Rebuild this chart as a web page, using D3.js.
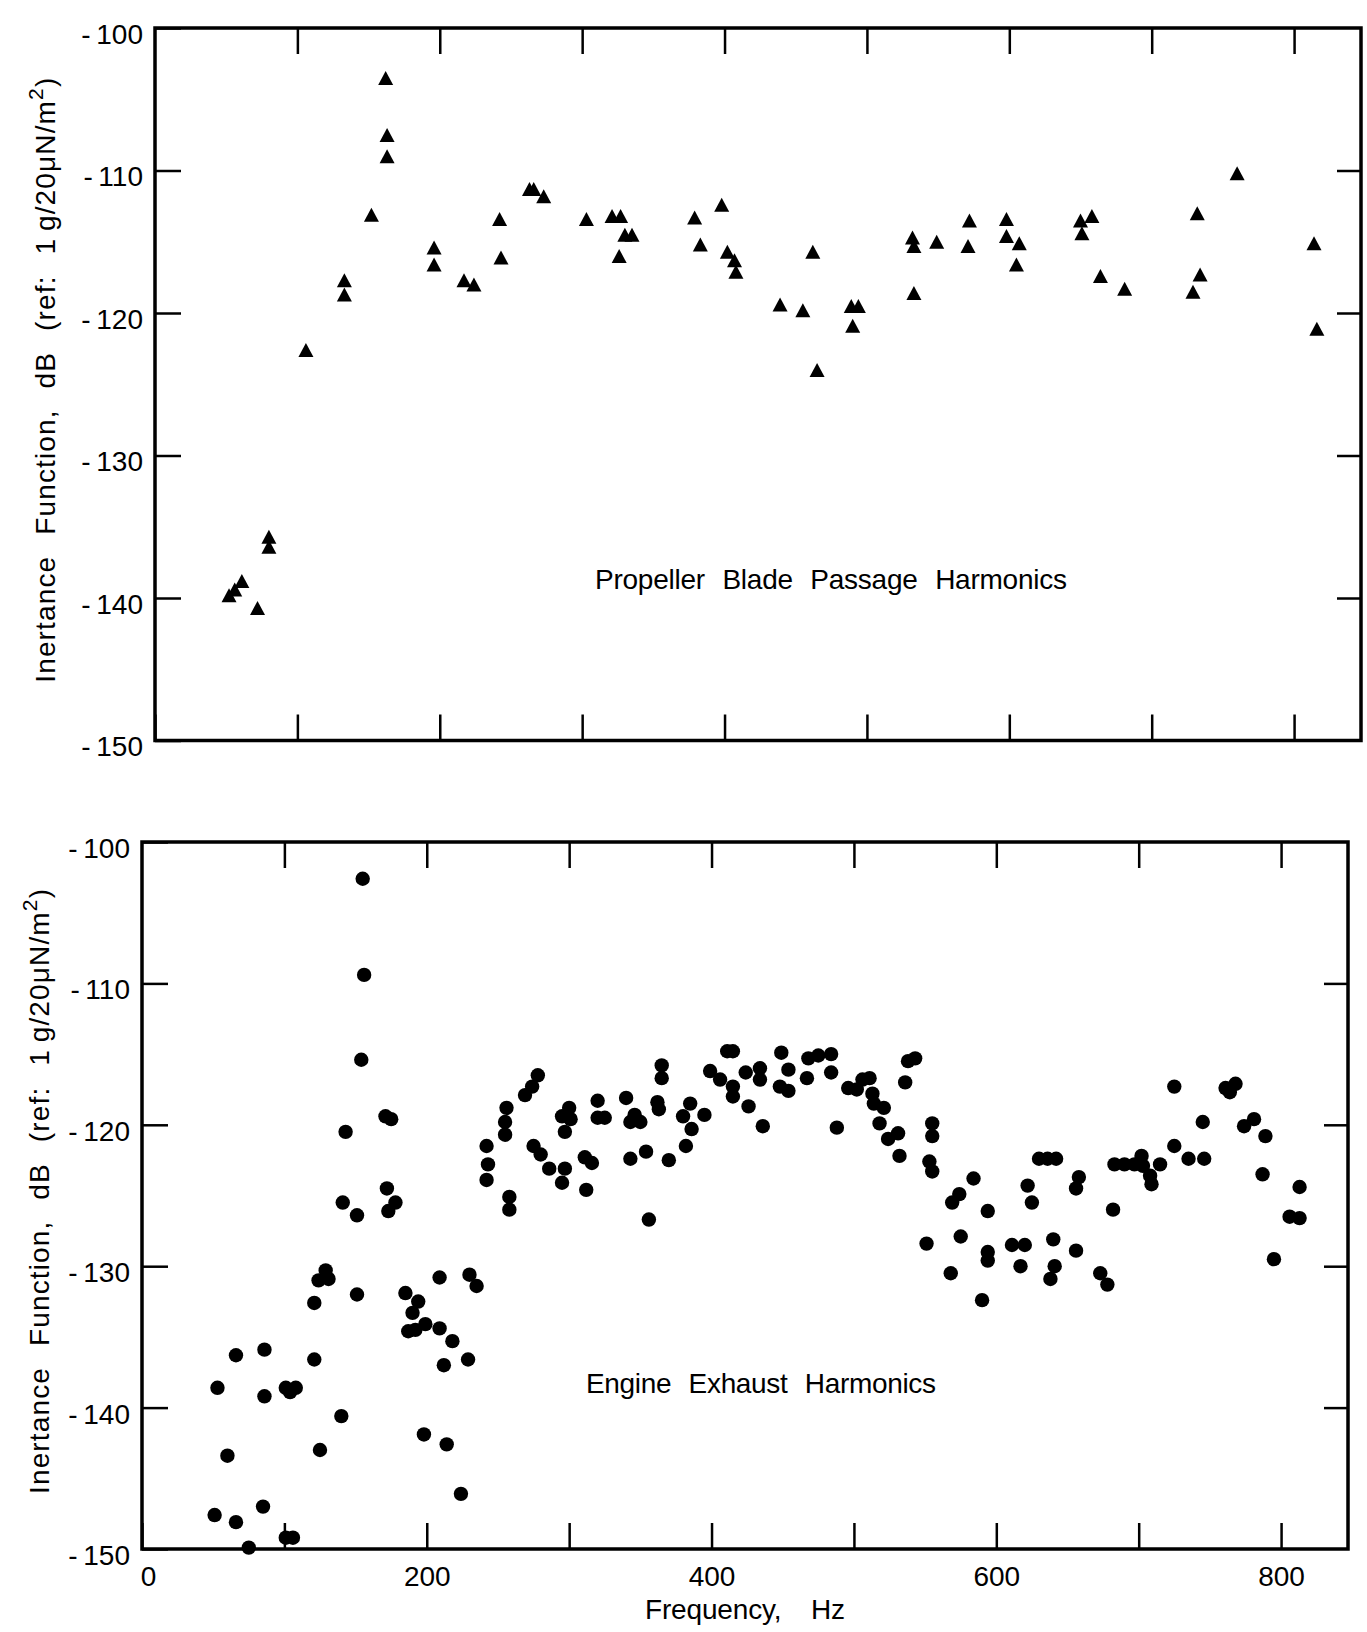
<!DOCTYPE html>
<html>
<head>
<meta charset="utf-8">
<script src="https://d3js.org/d3.v7.min.js"></script>
<style>
  body { margin: 0; background: #fff; }
  text { font-family: "Liberation Sans", Arial, sans-serif; fill: #000; }
</style>
</head>
<body>
<div id="chart"></div>
<script>
// propeller blade passage harmonics: [frequency Hz, inertance dB]
const propeller = [
  [162,-103.5],[163,-107.5],[163,-109.0],[152,-113.1],[133,-117.7],[133,-118.7],
  [106,-122.6],[80,-135.7],[80,-136.4],[61,-138.8],[56,-139.4],[52,-139.8],[72,-140.7],
  [196,-115.4],[196,-116.6],[217,-117.7],[224,-118.0],[242,-113.4],[243,-116.1],
  [263,-111.3],[266,-111.3],[273,-111.8],[303,-113.4],[321,-113.2],[327,-113.2],
  [330,-114.5],[335,-114.5],[326,-116.0],[379,-113.3],[383,-115.2],[398,-112.4],
  [402,-115.7],[407,-116.3],[408,-117.1],[439,-119.4],[455,-119.8],[462,-115.7],
  [465,-124.0],[489,-119.5],[494,-119.5],[490,-120.9],[532,-114.7],[533,-115.3],
  [533,-118.6],[549,-115.0],[572,-113.5],[571,-115.3],[598,-113.4],[598,-114.6],
  [607,-115.1],[605,-116.6],[650,-113.5],[658,-113.2],[651,-114.4],[664,-117.4],
  [681,-118.3],[732,-113.0],[734,-117.3],[729,-118.5],[760,-110.2],[814,-115.1],
  [816,-121.1]
];

// engine exhaust harmonics: [frequency Hz, inertance dB]
const exhaust = [
  [155,-102.6],[156,-109.4],[154,-115.4],[171,-119.4],[175,-119.6],[143,-120.5],
  [172,-124.5],[178,-125.5],[173,-126.1],[141,-125.5],[151,-126.4],[129,-130.3],
  [124,-131.0],[131,-130.9],[121,-132.6],[151,-132.0],[121,-136.6],[66,-136.3],
  [86,-135.9],[53,-138.6],[86,-139.2],[101,-138.6],[104,-138.9],[108,-138.6],
  [140,-140.6],[198,-141.9],[214,-142.6],[125,-143.0],[185,-131.9],[194,-132.5],
  [190,-133.3],[187,-134.6],[192,-134.5],[199,-134.1],[209,-130.8],[209,-134.4],
  [218,-135.3],[212,-137.0],[229,-136.6],[230,-130.6],[235,-131.4],
  [60,-143.4],[224,-146.1],[51,-147.6],[66,-148.1],[85,-147.0],[75,-149.9],
  [101,-149.2],[106,-149.2],
  [242,-121.5],[243,-122.8],[242,-123.9],[256,-118.8],[255,-119.8],[255,-120.7],
  [258,-125.1],[258,-126.0],[269,-117.9],[274,-117.3],[278,-116.5],[275,-121.5],
  [280,-122.1],[286,-123.1],[297,-123.1],[295,-124.1],[300,-118.8],[295,-119.4],
  [301,-119.6],[297,-120.5],[320,-118.3],[320,-119.5],[325,-119.5],[311,-122.3],
  [316,-122.7],[312,-124.6],[340,-118.1],[343,-119.8],[346,-119.3],[350,-119.8],
  [343,-122.4],[354,-121.9],[356,-126.7],[365,-115.8],[365,-116.7],[362,-118.4],
  [363,-118.9],[370,-122.5],[380,-119.4],[385,-118.5],[386,-120.3],[382,-121.5],
  [395,-119.3],[399,-116.2],[406,-116.8],[411,-114.8],[415,-114.8],[415,-117.3],
  [415,-118.0],
  [424,-116.3],[434,-116.0],[434,-116.8],[426,-118.7],[436,-120.1],[449,-114.9],
  [454,-116.1],[448,-117.3],[454,-117.6],[468,-115.3],[467,-116.7],[475,-115.1],
  [484,-115.0],[484,-116.3],[488,-120.2],[496,-117.4],[502,-117.5],[506,-116.8],
  [511,-116.7],[513,-117.8],[514,-118.5],[521,-118.8],[518,-119.9],[524,-121.0],
  [531,-120.6],[532,-122.2],[538,-115.5],[543,-115.3],[536,-117.0],[555,-119.9],
  [555,-120.8],[553,-122.6],[555,-123.3],[551,-128.4],[569,-125.5],[574,-124.9],
  [584,-123.8],[575,-127.9],[568,-130.5],[594,-126.1],[594,-129.0],[594,-129.6],
  [590,-132.4],[622,-124.3],[625,-125.5],[611,-128.5],[620,-128.5],[617,-130.0],
  [630,-122.4],[636,-122.4],[642,-122.4],[640,-128.1],[641,-130.0],[638,-130.9],
  [656,-128.9],[658,-123.7],[656,-124.5],[673,-130.5],[678,-131.3],[682,-126.0],
  [683,-122.8],[690,-122.8],[697,-122.8],[702,-122.2],[703,-122.9],[708,-123.6],
  [709,-124.2],[715,-122.8],[725,-117.3],[725,-121.5],[735,-122.4],[746,-122.4],
  [745,-119.8],[761,-117.4],[764,-117.7],[768,-117.1],[774,-120.1],[781,-119.6],
  [789,-120.8],[787,-123.5],[795,-129.5],[813,-124.4],[806,-126.5],[813,-126.6]
];

const yTicks = [-100, -110, -120, -130, -140, -150];
const yInnerTicks = [-110, -120, -130, -140];
const xTicks = [0, 100, 200, 300, 400, 500, 600, 700, 800];
const xLabelled = [0, 200, 400, 600, 800];
const xDomain = [0, 847];
const yDomain = [-150, -100];

const width = 1367, height = 1632;
const svg = d3.select("#chart").append("svg")
    .attr("width", width)
    .attr("height", height);

const panels = [
  { data: propeller, marker: "triangle", left: 155, right: 1361, top: 28, bottom: 740.5,
    note: "Propeller Blade Passage Harmonics", noteX: 595, noteY: 589, noteLen: 472,
    titleX: 55, showX: false },
  { data: exhaust, marker: "circle", left: 142, right: 1348, top: 842, bottom: 1549,
    note: "Engine Exhaust Harmonics", noteX: 586, noteY: 1393, noteLen: 350,
    titleX: 49, showX: true }
];

const tri = (w, h) => `M0,${-h/2}L${w/2},${h/2}L${-w/2},${h/2}Z`;

panels.forEach(p => {
  const x = d3.scaleLinear().domain(xDomain).range([p.left, p.right]);
  const y = d3.scaleLinear().domain(yDomain).range([p.bottom, p.top]);
  const g = svg.append("g");

  // left axis with labels, ticks pointing inward
  const left = g.append("g")
      .attr("transform", `translate(${p.left},0)`)
      .call(d3.axisLeft(y).tickValues(yTicks).tickSize(-26).tickPadding(12)
        .tickFormat(d => "-\u2009" + Math.abs(d)));
  left.selectAll("text").attr("dy", "0.55em").style("font-size", "28px").style("font-family", "Liberation Sans, Arial, sans-serif");

  g.append("g")
      .attr("transform", `translate(${p.right},0)`)
      .call(d3.axisRight(y).tickValues(yInnerTicks).tickSize(-24).tickFormat(""));

  g.append("g")
      .attr("transform", `translate(0,${p.top})`)
      .call(d3.axisTop(x).tickValues(xTicks.slice(1)).tickSize(-26).tickFormat(""));

  const bottom = g.append("g")
      .attr("transform", `translate(0,${p.bottom})`)
      .call(d3.axisBottom(x).tickValues(xTicks).tickSize(-26).tickPadding(8)
        .tickFormat(d => p.showX && xLabelled.includes(d) ? d : ""));
  bottom.selectAll("text").attr("dy", "1.05em").style("font-size", "28px").style("font-family", "Liberation Sans, Arial, sans-serif");
  bottom.selectAll(".tick").filter(d => d === 0).select("text").attr("dx", 6);

  g.selectAll(".domain").remove();
  g.selectAll(".tick line").attr("stroke", "#000").attr("stroke-width", 2.5);

  g.append("rect")
      .attr("x", p.left).attr("y", p.top)
      .attr("width", p.right - p.left).attr("height", p.bottom - p.top)
      .attr("fill", "none").attr("stroke", "#000").attr("stroke-width", 3.5);

  // markers
  if (p.marker === "triangle") {
    g.selectAll(".pt").data(p.data).enter().append("path")
        .attr("class", "pt")
        .attr("d", tri(15, 14))
        .attr("transform", d => `translate(${x(d[0])},${y(d[1])})`)
        .attr("fill", "#000");
  } else {
    g.selectAll(".pt").data(p.data).enter().append("circle")
        .attr("class", "pt")
        .attr("cx", d => x(d[0])).attr("cy", d => y(d[1]))
        .attr("r", 7.2)
        .attr("fill", "#000");
  }

  // in-plot annotation
  g.append("text")
      .attr("x", p.noteX).attr("y", p.noteY)
      .attr("textLength", p.noteLen).attr("lengthAdjust", "spacing")
      .style("font-size", "28px").style("word-spacing", "10px")
      .text(p.note);

  // y axis title
  const cy = (p.top + p.bottom) / 2 - 4;
  const t = g.append("text")
      .attr("transform", `translate(${p.titleX},${cy}) rotate(-90)`)
      .attr("text-anchor", "middle")
      .attr("textLength", 605).attr("lengthAdjust", "spacing")
      .style("font-size", "28px").style("word-spacing", "12px");
  t.append("tspan").text("Inertance Function, dB (ref: 1\u2009g/20\u03bcN/m");
  t.append("tspan").attr("dy", -12).style("font-size", "21px").text("2");
  t.append("tspan").attr("dy", 12).text(")");

  if (p.showX) {
    g.append("text")
        .attr("x", 645).attr("y", 1619)
        .attr("textLength", 200).attr("lengthAdjust", "spacing")
        .style("font-size", "28px").style("word-spacing", "22px")
        .text("Frequency, Hz");
  }
});
</script>
</body>
</html>
